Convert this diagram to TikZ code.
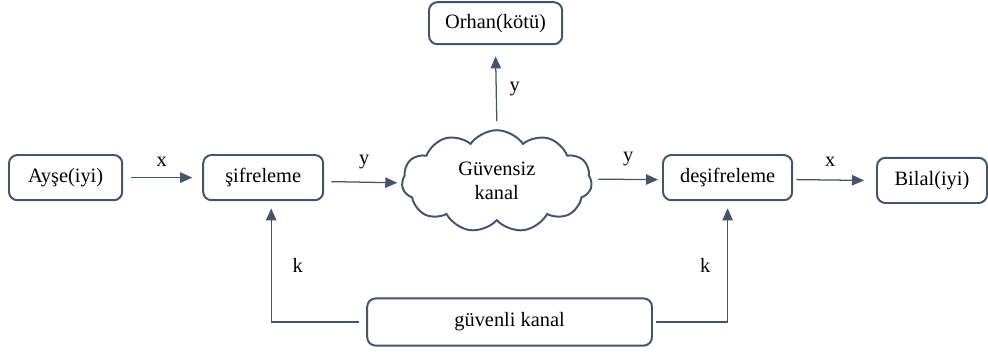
\documentclass[tikz,border=0pt]{standalone}
\usepackage{fontspec}
\setmainfont{Liberation Serif}
\usetikzlibrary{positioning, shapes.symbols, arrows.meta}

\definecolor{edgeblue}{HTML}{44546A}

\begin{document}
\begin{tikzpicture}[
    box/.style={draw=edgeblue, line width=1.4pt, rounded corners=6pt, fill=white,
      minimum height=1.13cm, align=center, font=\fontsize{14.5}{17}\selectfont},
    link/.style={draw=edgeblue, line width=0.9pt, -{Triangle[length=3mm, width=2.6mm]}},
    lbl/.style={font=\fontsize{14.5}{17}\selectfont}
  ]
    \useasboundingbox (0,0) rectangle (24.7,-8.85);

    % Draw the boxes
    \node[box, minimum width=2.83cm] (ayse) at (1.64,-4.44) {Ayşe(iyi)};
    \node[box, minimum width=3.0cm] (sifre) at (6.58,-4.44) {şifreleme};
    \node[cloud, draw=edgeblue, line width=1.4pt, cloud puffs=11, cloud puff arc=110,
      cloud ignores aspect, inner sep=0pt,
      minimum width=4.75cm, minimum height=2.55cm, align=center,
      font=\fontsize{14.5}{17}\selectfont] (kanal) at (12.42,-4.53) {Güvensiz\\kanal};
    \node[box, minimum width=3.33cm, minimum height=1.05cm] (orhan) at (12.39,-0.58) {Orhan(kötü)};
    \node[box, minimum width=3.23cm] (desifre) at (18.19,-4.44) {deşifreleme};
    \node[box, minimum width=2.75cm] (bilal) at (23.3,-4.51) {Bilal(iyi)};
    \node[box, minimum width=7.12cm, minimum height=1.18cm] (guvenli) at (12.74,-8.05) {güvenli kanal};

    % Draw the arrows
    \draw[link] ([xshift=0.2cm]ayse.east) -- ([xshift=-0.25cm]sifre.west)
      node[lbl, midway, above=0.15cm] {x};
    \draw[link] ([xshift=0.18cm,yshift=-0.1cm]sifre.east) -- ([xshift=-0.1cm,yshift=-0.04cm]kanal.west)
      node[lbl, midway, above=0.2cm] {y};
    \draw[link] ([yshift=0.2cm]kanal.north) -- ([yshift=-0.28cm]orhan.south)
      node[lbl, midway, right=0.2cm] {y};
    \draw[link] ([xshift=0.15cm,yshift=0.05cm]kanal.east) -- ([xshift=-0.1cm,yshift=-0.05cm]desifre.west)
      node[lbl, midway, above=0.2cm] {y};
    \draw[link] ([xshift=0.08cm,yshift=-0.05cm]desifre.east) -- ([xshift=-0.3cm]bilal.west)
      node[lbl, midway, above=0.2cm] {x};

    % Draw the key lines
    \draw[link] ([xshift=-0.18cm]guvenli.west) -| ([xshift=0.2cm,yshift=-0.18cm]sifre.south)
      node[lbl, pos=0.75, right=0.4cm] {k};
    \draw[link] ([xshift=0.08cm]guvenli.east) -| ([yshift=-0.18cm]desifre.south)
      node[lbl, pos=0.75, left=0.3cm] {k};
\end{tikzpicture}
\end{document}
